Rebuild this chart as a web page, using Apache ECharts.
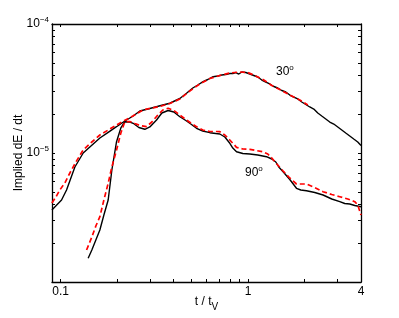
<!DOCTYPE html>
<html><head><meta charset="utf-8">
<script src="https://cdn.jsdelivr.net/npm/echarts@6/dist/echarts.min.js"></script>
<style>html,body{margin:0;padding:0;background:#fff}#c{width:399px;height:318px}</style>
</head><body><div id="c"></div><script>
// ---- data (t / t_V, implied dE/dt) ----
const t30 = [0.0899, 0.1012, 0.1076, 0.1192, 0.1320, 0.1620, 0.1794, 0.1988, 0.2202, 0.2438, 0.2647, 0.2992, 0.3510, 0.3825, 0.4325, 0.4694, 0.5071, 0.5392, 0.5754, 0.6099, 0.6509, 0.6895, 0.7242, 0.7607, 0.7989, 0.8289, 0.8600, 0.8922, 0.9256, 0.9721, 1.0211, 1.0725, 1.1264, 1.1831, 1.2426, 1.3051, 1.3707, 1.4397, 1.5121, 1.5883, 1.6683, 1.7523, 1.8405, 1.9331, 2.0304, 2.1325, 2.2398, 2.3525, 2.4709, 2.5953, 2.7259, 2.8630, 3.0071, 3.1584, 3.3172, 3.4840, 3.6597, 3.8437, 4.0];
const e30 = [0.3615e-5, 0.4322e-5, 0.5166e-5, 0.7791e-5, 1.000e-5, 1.307e-5, 1.447e-5, 1.599e-5, 1.770e-5, 1.935e-5, 2.116e-5, 2.213e-5, 2.356e-5, 2.43e-5, 2.645e-5, 2.902e-5, 3.190e-5, 3.366e-5, 3.570e-5, 3.713e-5, 3.903e-5, 3.953e-5, 4.023e-5, 4.060e-5, 4.133e-5, 4.133e-5, 4.207e-5, 4.096e-5, 4.245e-5, 4.207e-5, 4.096e-5, 3.988e-5, 3.882e-5, 3.680e-5, 3.551e-5, 3.427e-5, 3.277e-5, 3.190e-5, 3.051e-5, 2.971e-5, 2.815e-5, 2.717e-5, 2.622e-5, 2.485e-5, 2.377e-5, 2.273e-5, 2.193e-5, 2.042e-5, 1.935e-5, 1.835e-5, 1.739e-5, 1.678e-5, 1.591e-5, 1.508e-5, 1.429e-5, 1.355e-5, 1.284e-5, 1.217e-5, 1.143e-5];

const t30fit = [0.0899, 0.0944, 0.0991, 0.1054, 0.1121, 0.1207, 0.1320, 0.1468, 0.1620, 0.1832, 0.2148, 0.2430, 0.2746, 0.3067, 0.3383, 0.3825, 0.4325, 0.4888, 0.5526, 0.6250, 0.7066, 0.7989, 0.9032, 0.9963, 1.0991, 1.2125, 1.3375, 1.4755, 1.6683, 1.8862, 2.0808];
const e30fit = [0.4097e-5, 0.4558e-5, 0.5166e-5, 0.5854e-5, 0.6998e-5, 0.8516e-5, 1.055e-5, 1.217e-5, 1.379e-5, 1.535e-5, 1.755e-5, 1.935e-5, 2.154e-5, 2.233e-5, 2.294e-5, 2.419e-5, 2.622e-5, 3.024e-5, 3.427e-5, 3.780e-5, 3.988e-5, 4.170e-5, 4.245e-5, 4.207e-5, 3.953e-5, 3.680e-5, 3.336e-5, 3.106e-5, 2.815e-5, 2.575e-5, 2.356e-5];

const t90 = [0.1403, 0.1468, 0.1542, 0.1620, 0.1702, 0.1794, 0.1877, 0.1988, 0.2096, 0.2202, 0.2341, 0.2438, 0.2614, 0.2814, 0.2992, 0.3249, 0.3467, 0.3746, 0.4018, 0.4325, 0.4654, 0.4948, 0.5307, 0.5733, 0.6250, 0.6728, 0.7066, 0.7514, 0.7989, 0.8289, 0.8674, 0.9371, 1.0211, 1.1264, 1.2533, 1.3375, 1.405, 1.4575, 1.5365, 1.6683, 1.8113, 1.9095, 2.0479, 2.2675, 2.5106, 2.7936, 3.0818, 3.2768, 3.4840, 3.7049, 4.0];
const e90 = [0.1527e-5, 0.1771e-5, 0.2116e-5, 0.2530e-5, 0.3307e-5, 0.4322e-5, 0.7384e-5, 1.224e-5, 1.563e-5, 1.748e-5, 1.739e-5, 1.699e-5, 1.577e-5, 1.527e-5, 1.591e-5, 1.803e-5, 2.042e-5, 2.135e-5, 2.079e-5, 1.911e-5, 1.786e-5, 1.678e-5, 1.554e-5, 1.481e-5, 1.437e-5, 1.416e-5, 1.404e-5, 1.331e-5, 1.189e-5, 1.093e-5, 1.023e-5, 0.9911e-5, 0.9823e-5, 0.9649e-5, 0.9361e-5, 0.8986e-5, 0.8516e-5, 0.7791e-5, 0.7162e-5, 0.6231e-5, 0.5326e-5, 0.5166e-5, 0.5102e-5, 0.4941e-5, 0.4725e-5, 0.4399e-5, 0.4193e-5, 0.4061e-5, 0.4025e-5, 0.3918e-5, 0.3835e-5];

const t90fit = [0.1376, 0.1468, 0.1542, 0.1620, 0.1702, 0.1794, 0.1877, 0.1988, 0.2096, 0.2202, 0.2341, 0.2489, 0.2647, 0.2873, 0.3067, 0.3301, 0.3510, 0.3746, 0.4018, 0.4325, 0.4654, 0.4948, 0.5307, 0.5733, 0.6250, 0.6728, 0.7066, 0.7514, 0.7989, 0.8674, 0.9371, 1.0211, 1.0991, 1.2021, 1.2735, 1.3375, 1.4221, 1.5365, 1.6683, 1.8113, 2.0479, 2.2675, 2.5106, 2.7936, 3.0818, 3.3996, 3.7049, 3.8437, 4.0];
const e90fit = [0.1771e-5, 0.2233e-5, 0.2717e-5, 0.3208e-5, 0.4322e-5, 0.5823e-5, 0.7791e-5, 1.055e-5, 1.429e-5, 1.748e-5, 1.755e-5, 1.693e-5, 1.634e-5, 1.599e-5, 1.739e-5, 1.970e-5, 2.154e-5, 2.221e-5, 2.135e-5, 1.970e-5, 1.819e-5, 1.708e-5, 1.599e-5, 1.508e-5, 1.468e-5, 1.468e-5, 1.463e-5, 1.379e-5, 1.261e-5, 1.107e-5, 1.074e-5, 1.068e-5, 1.046e-5, 1.023e-5, 0.9823e-5, 0.9146e-5, 0.8218e-5, 0.7252e-5, 0.6400e-5, 0.5750e-5, 0.5750e-5, 0.5402e-5, 0.5012e-5, 0.4768e-5, 0.4584e-5, 0.4399e-5, 0.4193e-5, 0.3954e-5, 0.3307e-5];

// axes
const xRange = [0.09, 4];
const yRange = [1e-6, 1e-4];
const xTicks = [0.1, 0.2, 0.3, 0.4, 0.5, 0.6, 0.7, 0.8, 0.9, 1, 2, 3, 4];
const xTickLabels = [0.1, 1, 4];
const yTicks = [1e-6, 2e-6, 3e-6, 4e-6, 5e-6, 6e-6, 7e-6, 8e-6, 9e-6, 1e-5, 2e-5, 3e-5, 4e-5, 5e-5, 6e-5, 7e-5, 8e-5, 9e-5, 1e-4];
const yTickLabels = [1e-5, 1e-4];
const curveLabels = ['30', '90'];

const lg = Math.log10;
const FONT = '"Liberation Sans", Arial, Helvetica, sans-serif';
const mk = (t, e) => t.map((v, i) => [lg(v), lg(e[i])]);

const axisLine = { show: true, onZero: false, lineStyle: { color: '#000', width: 1.3 } };
const tickX = { show: true, inside: true, length: 3, customValues: xTicks.map(lg), lineStyle: { color: '#000', width: 1 } };
const tickY = { show: true, inside: true, length: 3, customValues: yTicks.map(lg), lineStyle: { color: '#000', width: 1 } };

const chart = echarts.init(document.getElementById('c'), null, { renderer: 'canvas' });
chart.setOption({
  animation: false,
  backgroundColor: '#fff',
  grid: { left: 52, right: 38, top: 24, bottom: 36, outerBoundsMode: 'none' },
  xAxis: [
    {
      type: 'value', position: 'bottom', min: lg(xRange[0]), max: lg(xRange[1]),
      axisLine, axisTick: tickX, splitLine: { show: false },
      axisLabel: {
        customValues: xTickLabels.map(lg), margin: 4, color: '#000', fontSize: 12, fontFamily: FONT,
        formatter: v => String(parseFloat(Math.pow(10, v).toPrecision(3)))
      },
      name: '{n|t / t}{v|V}', nameLocation: 'middle', nameGap: 13, nameMoveOverlap: false,
      nameTextStyle: {
        rich: {
          n: { fontSize: 12, fontFamily: FONT, color: '#000', lineHeight: 14 },
          v: { fontSize: 10, fontFamily: FONT, color: '#000', lineHeight: 11, padding: [10, 0, 0, 0] }
        }
      }
    },
    {
      type: 'value', position: 'top', min: lg(xRange[0]), max: lg(xRange[1]),
      axisLine, axisTick: tickX, splitLine: { show: false }, axisLabel: { show: false }
    }
  ],
  yAxis: [
    {
      type: 'value', position: 'left', min: lg(yRange[0]), max: lg(yRange[1]),
      axisLine, axisTick: tickY, splitLine: { show: false },
      axisLabel: {
        customValues: yTickLabels.map(lg), margin: 3,
        formatter: v => '{b|10}{s|\u2212' + Math.abs(Math.round(v)) + '}',
        rich: {
          b: { fontSize: 12, fontFamily: FONT, color: '#000', lineHeight: 14 },
          s: { fontSize: 8, fontFamily: FONT, color: '#000', lineHeight: 9, padding: [0, 0, 8, 0] }
        }
      },
      name: 'Implied dE / dt', nameLocation: 'middle', nameRotate: 90, nameGap: 27, nameMoveOverlap: false,
      nameTextStyle: { fontSize: 12, fontFamily: FONT, color: '#000' }
    },
    {
      type: 'value', position: 'right', min: lg(yRange[0]), max: lg(yRange[1]),
      axisLine, axisTick: tickY, splitLine: { show: false }, axisLabel: { show: false }
    }
  ],
  graphic: [
    {
      type: 'text', left: 276, top: 64,
      style: {
        text: '{a|' + curveLabels[0] + '}{o|o}',
        rich: {
          a: { fontSize: 12, fontFamily: FONT, fill: '#000', lineHeight: 14 },
          o: { fontSize: 8, fontFamily: FONT, fill: '#000', lineHeight: 9, padding: [0, 0, 8, 0] }
        }
      }
    },
    {
      type: 'text', left: 245, top: 165,
      style: {
        text: '{a|' + curveLabels[1] + '}{o|o}',
        rich: {
          a: { fontSize: 12, fontFamily: FONT, fill: '#000', lineHeight: 14 },
          o: { fontSize: 8, fontFamily: FONT, fill: '#000', lineHeight: 9, padding: [0, 0, 8, 0] }
        }
      }
    }
  ],
  series: [
    { type: 'line', data: mk(t30, e30), symbol: 'none', lineStyle: { color: '#000', width: 1.4 } },
    { type: 'line', data: mk(t90, e90), symbol: 'none', lineStyle: { color: '#000', width: 1.4 } },
    { type: 'line', data: mk(t30fit, e30fit), symbol: 'none', lineStyle: { color: '#ff0000', width: 1.7, type: [5, 3] } },
    { type: 'line', data: mk(t90fit, e90fit), symbol: 'none', lineStyle: { color: '#ff0000', width: 1.7, type: [5, 3] } }
  ]
});
</script></body></html>
